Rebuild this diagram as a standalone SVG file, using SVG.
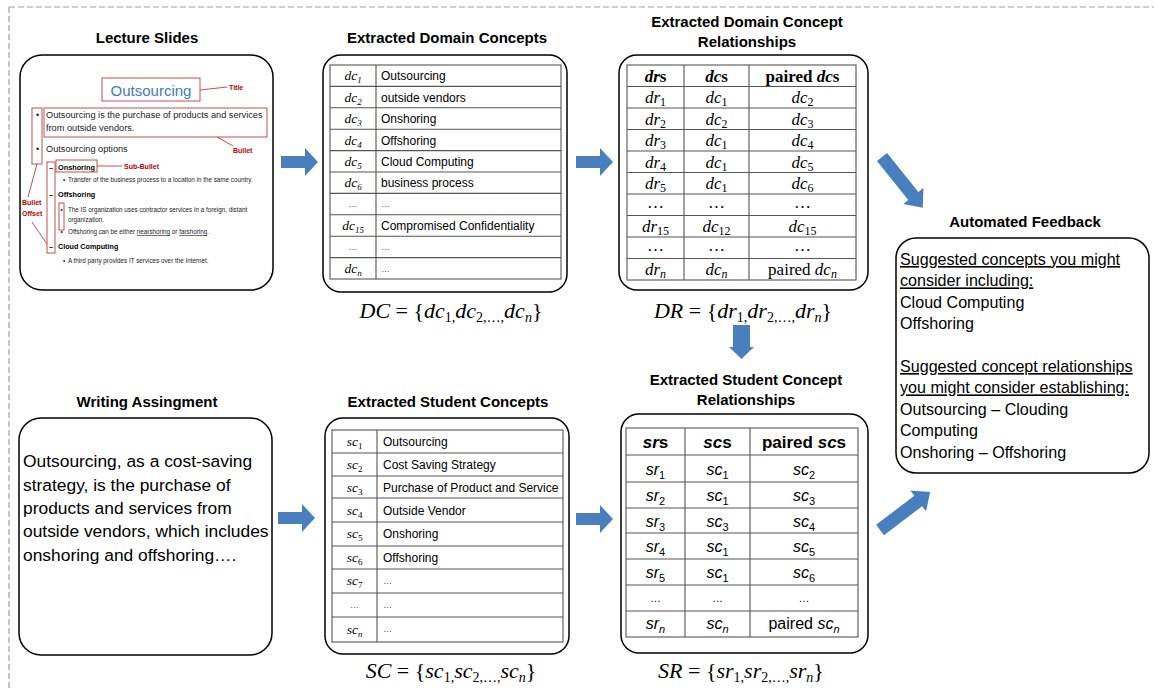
<svg xmlns="http://www.w3.org/2000/svg" width="1154" height="689" viewBox="0 0 1154 689">
<style>
.bg{fill:#fff}
.dash{fill:none;stroke:#a0a0a0;stroke-width:1.2;stroke-dasharray:6 3}
.ttl{font-family:"Liberation Sans",Arial,sans-serif;font-weight:bold;font-size:15px;fill:#000;text-anchor:middle}
.box{fill:#fff;stroke:#000;stroke-width:1.5}
.tbl{fill:none;stroke:#555;stroke-width:1.1}
.cell{font-family:"Liberation Sans",Arial,sans-serif;font-size:12px;fill:#000}
.dots{font-family:"Liberation Sans",Arial,sans-serif;font-size:9px;fill:#444}
.mi{font-family:"Liberation Serif","Times New Roman",serif;font-style:italic;fill:#000}
.ms{font-family:"Liberation Serif","Times New Roman",serif;fill:#000}
.si{font-family:"Liberation Sans",Arial,sans-serif;font-style:italic;fill:#000}
.ss{font-family:"Liberation Sans",Arial,sans-serif;fill:#000}
.mid{text-anchor:middle}
.big{font-family:"Liberation Sans",Arial,sans-serif;fill:#000}
.arrow{fill:#4a7fbf}
.red{fill:none;stroke:#c0504d;stroke-width:1}
.lbl{font-family:"Liberation Sans",Arial,sans-serif;font-weight:bold;fill:#c00000;font-size:7px}
.sl{font-family:"Liberation Sans",Arial,sans-serif;fill:#222}
.slb{font-family:"Liberation Sans",Arial,sans-serif;font-weight:bold;fill:#000}
</style>
<defs>
<path id="harrow" d="M0,-6 H24 V-14 L37,0 L24,14 V6 H0 Z"/>
</defs>
<rect class="bg" x="0" y="0" width="1154" height="689"/>
<path class="dash" d="M9,7 H1154 M9,7 V689"/>

<g id="lecture-slides">
<text class="ttl" x="147" y="43">Lecture Slides</text>
<rect class="box" x="20" y="55" width="253" height="235" rx="22"/>
<text x="151" y="96" font-family="Liberation Sans, Arial, sans-serif" font-size="15" fill="#3f7ac0" text-anchor="middle">Outsourcing</text>
<rect class="red" x="102" y="78" width="98" height="23"/>
<path class="red" d="M200,90 L227,87"/>
<text class="lbl" x="229" y="90">Title</text>
<rect class="red" x="44" y="108" width="223" height="29"/>
<text class="sl" x="36" y="118" font-size="9">•</text>
<text class="sl" x="46" y="118" font-size="9.2">Outsourcing is the purchase of products and services</text>
<text class="sl" x="46" y="131" font-size="9.2">from outside vendors.</text>
<path class="red" d="M217,137 L233,146"/>
<text class="lbl" x="233" y="153" font-size="7.5">Bullet</text>
<text class="sl" x="36" y="152" font-size="9">•</text>
<text class="sl" x="46" y="152" font-size="9.2">Outsourcing options</text>
<rect class="red" x="32" y="108" width="10" height="56"/>
<rect class="red" x="47" y="162" width="8" height="91"/>
<text class="slb" x="49" y="170" font-size="7.5">–</text>
<text class="slb" x="58" y="170" font-size="7.3">Onshoring</text>
<rect class="red" x="56" y="160" width="41" height="12"/>
<path class="red" d="M97,166 L122,166"/>
<text class="lbl" x="124" y="169" font-size="6.6">Sub-Bullet</text>
<text class="sl" x="63" y="182" font-size="6.3">•</text>
<text class="sl" x="68" y="182" font-size="6.3">Transfer of the business process to a location in the same country.</text>
<text class="slb" x="49" y="197" font-size="7.5">–</text>
<text class="slb" x="58" y="197" font-size="7.3">Offshoring</text>
<rect class="red" x="59" y="203" width="5" height="27"/>
<text class="sl" x="60.5" y="212" font-size="6.3">•</text>
<text class="sl" x="68" y="212" font-size="6.3">The IS organization uses contractor services in a foreign, distant</text>
<text class="sl" x="68" y="222" font-size="6.3">organization.</text>
<text class="sl" x="60.5" y="234" font-size="6.3">•</text>
<text class="sl" x="68" y="234" font-size="6.3">Offshoring can be either <tspan text-decoration="underline">nearshoring</tspan> or <tspan text-decoration="underline">farshoring</tspan>.</text>
<text class="slb" x="49" y="249" font-size="7.5">–</text>
<text class="slb" x="58" y="249" font-size="7.2">Cloud Computing</text>
<text class="sl" x="63" y="263" font-size="6.3">•</text>
<text class="sl" x="68" y="263" font-size="6.3">A third party provides IT services over the Internet.</text>
<path class="red" d="M37,164 L28,197"/>
<text class="lbl" x="22" y="205" font-size="7.5">Bullet</text>
<text class="lbl" x="22" y="216" font-size="7.5">Offset</text>
<path class="red" d="M32,222 L47,244"/>
</g>

<g id="extracted-domain-concepts">
<text class="ttl" x="447" y="43">Extracted Domain Concepts</text>
<rect class="box" x="323" y="55" width="244" height="237" rx="18"/>
<rect class="tbl" x="330" y="65" width="231" height="214"/>
<path class="tbl" d="M376,65 V279 M330,86.4 H561 M330,107.8 H561 M330,129.2 H561 M330,150.6 H561 M330,172 H561 M330,193.4 H561 M330,214.8 H561 M330,236.2 H561 M330,257.6 H561"/>
<g class="mi mid" font-size="13.5">
<text x="353" y="80">dc<tspan font-size="9" dy="3">1</tspan></text>
<text x="353" y="101.5">dc<tspan font-size="9" dy="3">2</tspan></text>
<text x="353" y="123">dc<tspan font-size="9" dy="3">3</tspan></text>
<text x="353" y="144.5">dc<tspan font-size="9" dy="3">4</tspan></text>
<text x="353" y="166">dc<tspan font-size="9" dy="3">5</tspan></text>
<text x="353" y="187">dc<tspan font-size="9" dy="3">6</tspan></text>
<text x="353" y="230">dc<tspan font-size="9" dy="3">15</tspan></text>
<text x="353" y="273">dc<tspan font-size="9" dy="3">n</tspan></text>
</g>
<text class="dots mid" x="353" y="207">…</text>
<text class="dots mid" x="353" y="250">…</text>
<g class="cell">
<text x="381" y="80">Outsourcing</text>
<text x="381" y="101.5">outside vendors</text>
<text x="381" y="123">Onshoring</text>
<text x="381" y="144.5">Offshoring</text>
<text x="381" y="166">Cloud Computing</text>
<text x="381" y="187">business process</text>
<text x="381" y="230">Compromised Confidentiality</text>
</g>
<text class="dots" x="381" y="207">…</text>
<text class="dots" x="381" y="250">…</text>
<text class="dots" x="381" y="272">…</text>
<text class="mi mid" x="451" y="318" font-size="22">DC <tspan class="ms" font-style="normal">= {</tspan>dc<tspan font-style="normal" font-size="14" dy="4">1,</tspan><tspan dy="-4">dc</tspan><tspan font-style="normal" font-size="14" dy="4">2,…,</tspan><tspan dy="-4">dc</tspan><tspan font-size="14" dy="4">n</tspan><tspan font-style="normal" dy="-4">}</tspan></text>
</g>

<g id="extracted-domain-concept-relationships">
<text class="ttl" x="747" y="27">Extracted Domain Concept</text>
<text class="ttl" x="747" y="47">Relationships</text>
<rect class="box" x="619" y="55" width="249" height="235" rx="18"/>
<rect class="tbl" x="627" y="65" width="229" height="215"/>
<path class="tbl" d="M684,65 V280 M749,65 V280 M627,86.5 H856 M627,108 H856 M627,129.5 H856 M627,151 H856 M627,172.5 H856 M627,194 H856 M627,215.5 H856 M627,237 H856 M627,258.5 H856"/>
<g class="ms mid" font-size="17" font-weight="bold">
<text x="655.5" y="81.5"><tspan font-style="italic">dr</tspan>s</text>
<text x="716.5" y="81.5"><tspan font-style="italic">dc</tspan>s</text>
<text x="802.5" y="81.5">paired <tspan font-style="italic">dc</tspan>s</text>
</g>
<g class="mi mid" font-size="17">
<text x="655.5" y="103">dr<tspan font-style="normal" font-size="12" dy="3">1</tspan></text>
<text x="716.5" y="103">dc<tspan font-style="normal" font-size="12" dy="3">1</tspan></text>
<text x="802.5" y="103">dc<tspan font-style="normal" font-size="12" dy="3">2</tspan></text>
<text x="655.5" y="124.5">dr<tspan font-style="normal" font-size="12" dy="3">2</tspan></text>
<text x="716.5" y="124.5">dc<tspan font-style="normal" font-size="12" dy="3">2</tspan></text>
<text x="802.5" y="124.5">dc<tspan font-style="normal" font-size="12" dy="3">3</tspan></text>
<text x="655.5" y="146">dr<tspan font-style="normal" font-size="12" dy="3">3</tspan></text>
<text x="716.5" y="146">dc<tspan font-style="normal" font-size="12" dy="3">1</tspan></text>
<text x="802.5" y="146">dc<tspan font-style="normal" font-size="12" dy="3">4</tspan></text>
<text x="655.5" y="167.5">dr<tspan font-style="normal" font-size="12" dy="3">4</tspan></text>
<text x="716.5" y="167.5">dc<tspan font-style="normal" font-size="12" dy="3">1</tspan></text>
<text x="802.5" y="167.5">dc<tspan font-style="normal" font-size="12" dy="3">5</tspan></text>
<text x="655.5" y="189">dr<tspan font-style="normal" font-size="12" dy="3">5</tspan></text>
<text x="716.5" y="189">dc<tspan font-style="normal" font-size="12" dy="3">1</tspan></text>
<text x="802.5" y="189">dc<tspan font-style="normal" font-size="12" dy="3">6</tspan></text>
<text x="655.5" y="208" font-style="normal">…</text>
<text x="716.5" y="208" font-style="normal">…</text>
<text x="802.5" y="208" font-style="normal">…</text>
<text x="655.5" y="232">dr<tspan font-style="normal" font-size="12" dy="3">15</tspan></text>
<text x="716.5" y="232">dc<tspan font-style="normal" font-size="12" dy="3">12</tspan></text>
<text x="802.5" y="232">dc<tspan font-style="normal" font-size="12" dy="3">15</tspan></text>
<text x="655.5" y="251" font-style="normal">…</text>
<text x="716.5" y="251" font-style="normal">…</text>
<text x="802.5" y="251" font-style="normal">…</text>
<text x="655.5" y="275">dr<tspan font-size="12" dy="3">n</tspan></text>
<text x="716.5" y="275">dc<tspan font-size="12" dy="3">n</tspan></text>
<text x="802.5" y="275"><tspan font-style="normal">paired </tspan>dc<tspan font-size="12" dy="3">n</tspan></text>
</g>
<text class="mi mid" x="743" y="318" font-size="22">DR <tspan font-style="normal">= {</tspan>dr<tspan font-style="normal" font-size="14" dy="4">1,</tspan><tspan dy="-4">dr</tspan><tspan font-style="normal" font-size="14" dy="4">2,…,</tspan><tspan dy="-4">dr</tspan><tspan font-size="14" dy="4">n</tspan><tspan font-style="normal" dy="-4">}</tspan></text>
</g>

<g id="writing-assignment">
<text class="ttl" x="147" y="407">Writing Assingment</text>
<rect class="box" x="19" y="418" width="253" height="237" rx="22"/>
<g class="big" font-size="17.4">
<text x="23" y="467">Outsourcing, as a cost-saving</text>
<text x="23" y="490.5">strategy, is the purchase of</text>
<text x="23" y="514">products and services from</text>
<text x="23" y="537">outside vendors, which includes</text>
<text x="23" y="560.5">onshoring and offshoring….</text>
</g>
</g>

<g id="extracted-student-concepts">
<text class="ttl" x="448" y="407">Extracted Student Concepts</text>
<rect class="box" x="325" y="418" width="244" height="236" rx="18"/>
<rect class="tbl" x="332" y="430" width="231" height="212"/>
<path class="tbl" d="M377,430 V642 M332,453 H563 M332,476 H563 M332,498 H563 M332,522 H563 M332,546 H563 M332,569 H563 M332,593 H563 M332,617 H563"/>
<g class="mi mid" font-size="13.5">
<text x="354.5" y="446">sc<tspan font-style="normal" font-size="9" dy="3">1</tspan></text>
<text x="354.5" y="469">sc<tspan font-style="normal" font-size="9" dy="3">2</tspan></text>
<text x="354.5" y="492">sc<tspan font-style="normal" font-size="9" dy="3">3</tspan></text>
<text x="354.5" y="515">sc<tspan font-style="normal" font-size="9" dy="3">4</tspan></text>
<text x="354.5" y="538">sc<tspan font-style="normal" font-size="9" dy="3">5</tspan></text>
<text x="354.5" y="562">sc<tspan font-style="normal" font-size="9" dy="3">6</tspan></text>
<text x="354.5" y="585">sc<tspan font-style="normal" font-size="9" dy="3">7</tspan></text>
<text x="354.5" y="634">sc<tspan font-size="9" dy="3">n</tspan></text>
</g>
<text class="dots mid" x="354.5" y="608">…</text>
<g class="cell" font-size="11.6">
<text x="383" y="446">Outsourcing</text>
<text x="383" y="469">Cost Saving Strategy</text>
<text x="383" y="492">Purchase of Product and Service</text>
<text x="383" y="515">Outside Vendor</text>
<text x="383" y="538">Onshoring</text>
<text x="383" y="562">Offshoring</text>
</g>
<text class="dots" x="383" y="584">…</text>
<text class="dots" x="383" y="608">…</text>
<text class="dots" x="383" y="632">…</text>
<text class="mi mid" x="451" y="678" font-size="22">SC <tspan font-style="normal">= {</tspan>sc<tspan font-style="normal" font-size="14" dy="4">1,</tspan><tspan dy="-4">sc</tspan><tspan font-style="normal" font-size="14" dy="4">2,…,</tspan><tspan dy="-4">sc</tspan><tspan font-size="14" dy="4">n</tspan><tspan font-style="normal" dy="-4">}</tspan></text>
</g>

<g id="extracted-student-concept-relationships">
<text class="ttl" x="746" y="385">Extracted Student Concept</text>
<text class="ttl" x="746" y="405">Relationships</text>
<rect class="box" x="621" y="414" width="247" height="239" rx="18"/>
<rect class="tbl" x="626" y="428" width="232" height="209"/>
<path class="tbl" d="M685,428 V637 M750,428 V637 M626,455 H858 M626,482 H858 M626,508 H858 M626,533 H858 M626,559 H858 M626,585 H858 M626,611 H858"/>
<g class="ss mid" font-size="17" font-weight="bold">
<text x="655.5" y="448"><tspan font-style="italic">sr</tspan>s</text>
<text x="717.5" y="448"><tspan font-style="italic">sc</tspan>s</text>
<text x="804" y="448">paired <tspan font-style="italic">sc</tspan>s</text>
</g>
<g class="si mid" font-size="16">
<text x="655.5" y="475">sr<tspan font-style="normal" font-size="11" dy="4">1</tspan></text>
<text x="717.5" y="475">sc<tspan font-style="normal" font-size="11" dy="4">1</tspan></text>
<text x="804" y="475">sc<tspan font-style="normal" font-size="11" dy="4">2</tspan></text>
<text x="655.5" y="501">sr<tspan font-style="normal" font-size="11" dy="4">2</tspan></text>
<text x="717.5" y="501">sc<tspan font-style="normal" font-size="11" dy="4">1</tspan></text>
<text x="804" y="501">sc<tspan font-style="normal" font-size="11" dy="4">3</tspan></text>
<text x="655.5" y="527">sr<tspan font-style="normal" font-size="11" dy="4">3</tspan></text>
<text x="717.5" y="527">sc<tspan font-style="normal" font-size="11" dy="4">3</tspan></text>
<text x="804" y="527">sc<tspan font-style="normal" font-size="11" dy="4">4</tspan></text>
<text x="655.5" y="552">sr<tspan font-style="normal" font-size="11" dy="4">4</tspan></text>
<text x="717.5" y="552">sc<tspan font-style="normal" font-size="11" dy="4">1</tspan></text>
<text x="804" y="552">sc<tspan font-style="normal" font-size="11" dy="4">5</tspan></text>
<text x="655.5" y="578">sr<tspan font-style="normal" font-size="11" dy="4">5</tspan></text>
<text x="717.5" y="578">sc<tspan font-style="normal" font-size="11" dy="4">1</tspan></text>
<text x="804" y="578">sc<tspan font-style="normal" font-size="11" dy="4">6</tspan></text>
<text x="655.5" y="602" font-style="normal" font-size="11">…</text>
<text x="717.5" y="602" font-style="normal" font-size="11">…</text>
<text x="804" y="602" font-style="normal" font-size="11">…</text>
<text x="655.5" y="629">sr<tspan font-size="11" dy="4">n</tspan></text>
<text x="717.5" y="629">sc<tspan font-size="11" dy="4">n</tspan></text>
<text x="804" y="629"><tspan font-style="normal">paired </tspan>sc<tspan font-size="11" dy="4">n</tspan></text>
</g>
<text class="mi mid" x="741" y="678" font-size="22">SR <tspan font-style="normal">= {</tspan>sr<tspan font-style="normal" font-size="14" dy="4">1,</tspan><tspan dy="-4">sr</tspan><tspan font-style="normal" font-size="14" dy="4">2,…,</tspan><tspan dy="-4">sr</tspan><tspan font-size="14" dy="4">n</tspan><tspan font-style="normal" dy="-4">}</tspan></text>
</g>

<g id="automated-feedback">
<text class="ttl" x="1025" y="227">Automated Feedback</text>
<rect class="box" x="896" y="238" width="253" height="235" rx="20"/>
<g class="big" font-size="16.1">
<text x="900" y="265" text-decoration="underline">Suggested concepts you might</text>
<text x="900" y="286.4" text-decoration="underline">consider including:</text>
<text x="900" y="307.8">Cloud Computing</text>
<text x="900" y="329.2">Offshoring</text>
<text x="900" y="372" text-decoration="underline">Suggested concept relationships</text>
<text x="900" y="393.4" text-decoration="underline">you might consider establishing:</text>
<text x="900" y="414.8">Outsourcing – Clouding</text>
<text x="900" y="436.2">Computing</text>
<text x="900" y="457.6">Onshoring – Offshoring</text>
</g>
</g>

<g id="connectors">
<use class="arrow" href="#harrow" transform="translate(281,162)"/>
<use class="arrow" href="#harrow" transform="translate(576,162)"/>
<use class="arrow" href="#harrow" transform="translate(278,518)"/>
<use class="arrow" href="#harrow" transform="translate(576,519)"/>
<path class="arrow" d="M733,325 H750 V347 H754 L741.5,359 L729,347 H733 Z"/>
<path class="arrow" transform="translate(882,157) rotate(51.2)" d="M0,-6.5 H50 V-13 L65,0 L50,13 V6.5 H0 Z"/>
<path class="arrow" transform="translate(880,530) rotate(-37.2)" d="M0,-6.5 H48 V-13 L63,0 L48,13 V6.5 H0 Z"/>
</g>
</svg>
